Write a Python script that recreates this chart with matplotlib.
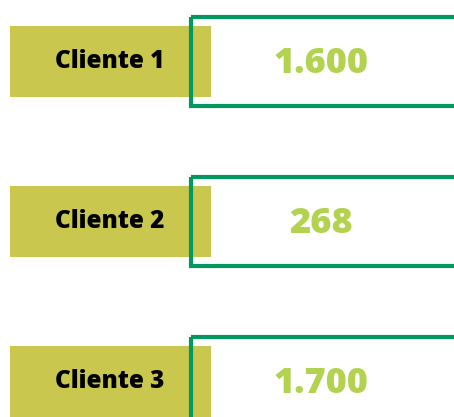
import matplotlib.pyplot as plt
from matplotlib.patches import Rectangle

# data
clientes = ["Cliente 1", "Cliente 2", "Cliente 3"]
valores = ["1.600", "268", "1.700"]

# colores
col_etiqueta = "#C9C74E"
col_borde = "#009A5E"
col_valor = "#B3D24F"

W, H = 454, 417
fig = plt.figure(figsize=(W / 100, H / 100), dpi=100)
ax = fig.add_axes([0, 0, 1, 1])
ax.set_xlim(0, W)
ax.set_ylim(H, 0)
ax.axis("off")

paso = 160  # separacion entre filas (px)
for i, (cli, val) in enumerate(zip(clientes, valores)):
    y0 = i * paso
    # caja de etiqueta
    ax.add_patch(Rectangle((10, y0 + 26), 201, 71, facecolor=col_etiqueta,
                           edgecolor="none", zorder=1))
    # caja del valor con borde verde
    ax.add_patch(Rectangle((191, y0 + 17), 265, 89, facecolor="none",
                           edgecolor=col_borde, linewidth=3, zorder=2))
    ax.text(110, y0 + 61, cli, ha="center", va="center", fontsize=17.5,
            fontweight="heavy", family="Open Sans", color="black", zorder=3)
    ax.text(321, y0 + 64, val, ha="center", va="center", fontsize=26,
            fontweight="heavy", family="Open Sans", color=col_valor, zorder=3)

fig.savefig("out.png", dpi=100)
